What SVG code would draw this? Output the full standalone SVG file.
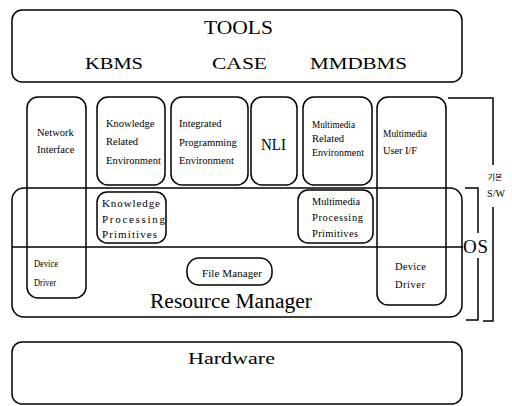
<svg xmlns="http://www.w3.org/2000/svg" width="512" height="406" viewBox="0 0 512 406" font-family="'Liberation Serif', 'Times New Roman', 'DejaVu Serif', serif">
  <style>
    .box { fill: none; stroke: #000; stroke-width: 1.5; }
    .ln { fill: none; stroke: #000; stroke-width: 1.5; }
    text { font-family: "Liberation Serif", "Times New Roman", "DejaVu Serif", serif; fill: #000; }
    .big { font-size: 18px; }
    .mid { font-size: 16px; }
    .sm { font-size: 10.5px; }
    text.kr { font-family: "Noto Sans CJK KR", sans-serif; font-size: 8px; }
  </style>
  <rect width="512" height="406" fill="#fff"/>

  <!-- tools layer -->
  <g id="tools">
    <rect class="box" x="12" y="10" width="450" height="72" rx="10"/>
    <text class="big" x="204" y="34" textLength="69" lengthAdjust="spacingAndGlyphs">TOOLS</text>
    <text class="mid" x="85" y="69" textLength="58" lengthAdjust="spacingAndGlyphs">KBMS</text>
    <text class="mid" x="212" y="69" textLength="55" lengthAdjust="spacingAndGlyphs">CASE</text>
    <text class="mid" x="310" y="69" textLength="97" lengthAdjust="spacingAndGlyphs">MMDBMS</text>
  </g>

  <!-- operating system block with resource manager -->
  <g id="os">
    <rect class="box" x="12" y="188" width="450" height="129" rx="12"/>
    <line class="ln" x1="12" y1="247" x2="463" y2="247"/>
    <text style="font-size:20px" x="150" y="308" textLength="162" lengthAdjust="spacingAndGlyphs">Resource Manager</text>
  </g>

  <g id="network-interface">
    <rect class="box" x="27" y="97" width="59" height="201" rx="11"/>
    <text class="sm" x="37" y="136">Network</text>
    <text class="sm" x="37" y="153">Interface</text>
    <text class="sm" x="34" y="267" textLength="24" lengthAdjust="spacingAndGlyphs">Device</text>
    <text class="sm" x="34" y="286" textLength="22" lengthAdjust="spacingAndGlyphs">Driver</text>
  </g>

  <g id="knowledge-env">
    <rect class="box" x="97" y="97" width="68" height="88" rx="11"/>
    <text class="sm" x="106" y="127">Knowledge</text>
    <text class="sm" x="106" y="145">Related</text>
    <text class="sm" x="106" y="164">Environment</text>
  </g>

  <g id="programming-env">
    <rect class="box" x="171" y="97" width="77" height="88" rx="11"/>
    <text class="sm" x="179" y="127">Integrated</text>
    <text class="sm" x="179" y="146">Programming</text>
    <text class="sm" x="179" y="164">Environment</text>
  </g>

  <g id="nli">
    <rect class="box" x="251" y="97" width="46" height="88" rx="11"/>
    <text style="font-size:16px" x="261" y="150" textLength="25" lengthAdjust="spacingAndGlyphs">NLI</text>
  </g>

  <g id="multimedia-env">
    <rect class="box" x="303" y="97" width="69" height="88" rx="11"/>
    <text class="sm" x="312" y="128" textLength="43" lengthAdjust="spacingAndGlyphs">Multimedia</text>
    <text class="sm" x="312" y="142">Related</text>
    <text class="sm" x="312" y="156" textLength="52" lengthAdjust="spacingAndGlyphs">Environment</text>
  </g>

  <g id="multimedia-ui">
    <rect class="box" x="377" y="97" width="69" height="208" rx="11"/>
    <text class="sm" x="383" y="137" textLength="44" lengthAdjust="spacingAndGlyphs">Multimedia</text>
    <text class="sm" x="383" y="154" textLength="34" lengthAdjust="spacing">User I/F</text>
    <text class="sm" x="395" y="270" textLength="31" lengthAdjust="spacing">Device</text>
    <text class="sm" x="395" y="288" textLength="30" lengthAdjust="spacing">Driver</text>
  </g>

  <g id="knowledge-primitives">
    <rect class="box" x="97" y="192" width="69" height="51" rx="10"/>
    <text style="font-size:11px" x="102" y="207" textLength="58" lengthAdjust="spacing">Knowledge</text>
    <text style="font-size:11px" x="102" y="223" textLength="63" lengthAdjust="spacing">Processing</text>
    <text style="font-size:11px" x="102" y="238" textLength="55" lengthAdjust="spacing">Primitives</text>
  </g>

  <g id="multimedia-primitives">
    <rect class="box" x="298" y="190" width="75" height="53" rx="10"/>
    <text class="sm" x="312" y="205" textLength="48" lengthAdjust="spacingAndGlyphs">Multimedia</text>
    <text class="sm" x="312" y="221" textLength="51" lengthAdjust="spacing">Processing</text>
    <text class="sm" x="312" y="237" textLength="46" lengthAdjust="spacing">Primitives</text>
  </g>

  <g id="file-manager">
    <rect class="box" x="187" y="258" width="85" height="27" rx="12"/>
    <text style="font-size:11px" x="202" y="277" textLength="60" lengthAdjust="spacing">File Manager</text>
  </g>

  <g id="hardware">
    <rect class="box" x="12" y="342" width="450" height="62" rx="10"/>
    <text style="font-size:17px" x="188" y="364" textLength="87" lengthAdjust="spacingAndGlyphs">Hardware</text>
  </g>

  <!-- layer brackets -->
  <g id="brackets">
    <polyline class="ln" points="465,188 478,188 478,233"/>
    <polyline class="ln" points="478,258 478,320 466,320"/>
    <text style="font-size:19px" x="463" y="253" textLength="25" lengthAdjust="spacing">OS</text>
    <polyline class="ln" points="448,98 493,98 493,165"/>
    <polyline class="ln" points="493,207 493,321 483,321"/>
    <text class="kr" x="495" y="180" text-anchor="middle">기본</text>
    <text style="font-size:10px" x="496" y="197" text-anchor="middle">S/W</text>
  </g>
</svg>
